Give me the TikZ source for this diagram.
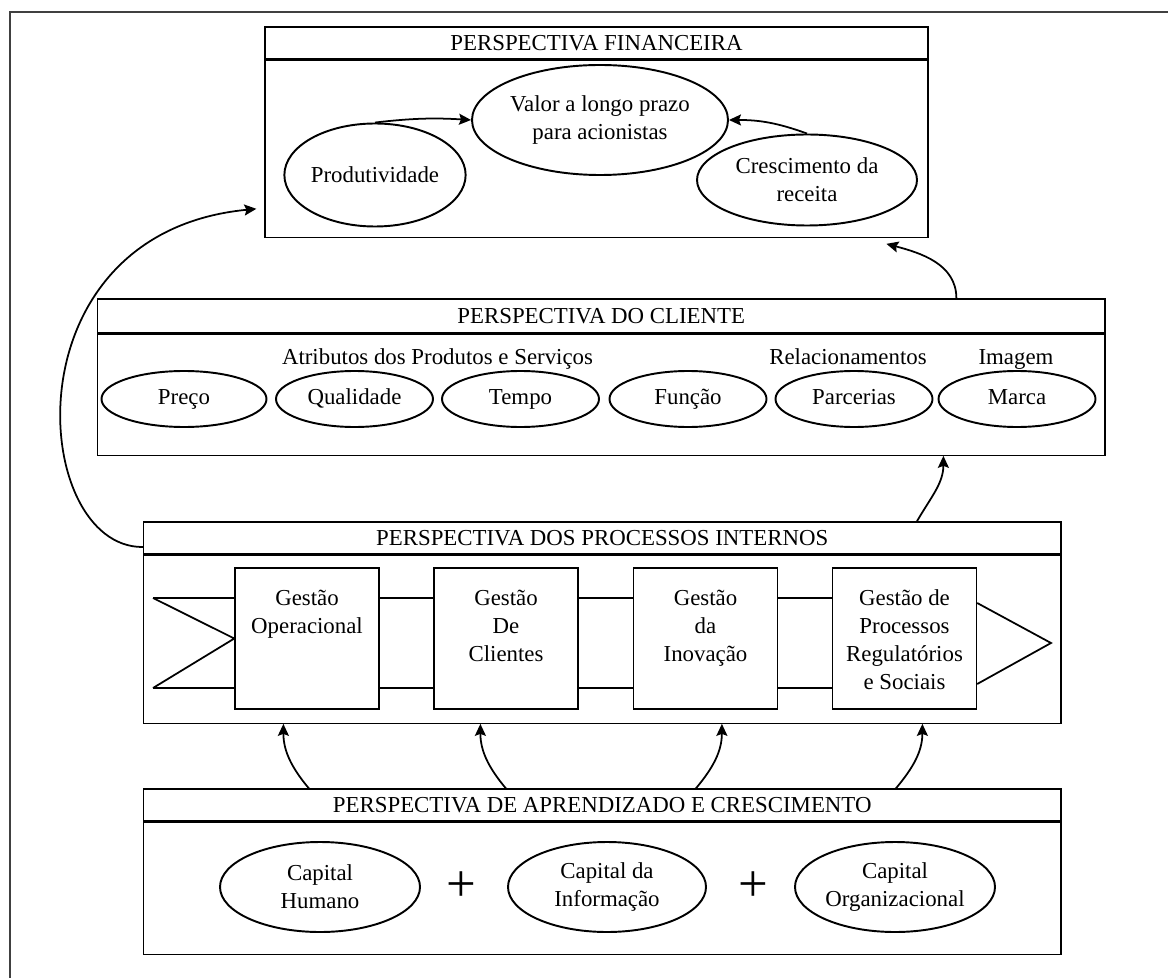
\documentclass[tikz,border=0pt]{standalone}
\usepackage{fontspec}
\setmainfont{Liberation Serif}
\usetikzlibrary{shapes,arrows,arrows.meta,positioning,backgrounds}

\newcommand{\steplabel}[1]{\parbox[c][1.95cm][t]{2.8cm}{\centering #1}}

\begin{document}
\begin{tikzpicture}[
    font=\fontsize{13}{16}\selectfont,
    head/.style={rectangle, draw, line width=0.7pt, inner sep=0pt},
    body/.style={rectangle, draw, line width=0.7pt, inner sep=0pt},
    goal/.style={ellipse, draw, line width=1.1pt, inner sep=0pt, align=center},
    attr/.style={goal, minimum width=3.14cm, minimum height=1.12cm, text height=1.9ex, text depth=0.45ex},
    capital/.style={goal, minimum width=4cm, minimum height=1.8cm},
    stepbox/.style={rectangle, draw, line width=0.8pt, fill=white, minimum width=2.88cm, minimum height=2.82cm, inner sep=0pt},
    arrow/.style={->, >={Stealth[length=2.4mm, width=2.2mm, inset=0.4mm]}, line width=1pt},
    plus/.style={font=\fontsize{30}{30}\selectfont, inner sep=0pt}
]

\useasboundingbox (0,0) rectangle (23.36,19.56);
\draw[line width=0.8pt, black!75] (23.36,19.32) -- (0.20,19.32) -- (0.20,0);

% Perspectiva financeira
\node[head, minimum width=13.26cm, minimum height=0.64cm] (fint) at (11.93,18.70) {PERSPECTIVA FINANCEIRA};
\node[body, below=0pt of fint, minimum width=13.26cm, minimum height=3.54cm] (fin) {};

\node[goal, minimum width=5.12cm, minimum height=2.2cm] (valor) at (12.00,17.16) {Valor a longo prazo\\para acionistas};
\node[goal, minimum width=3.5cm, minimum height=2.06cm] (prod) at (7.50,16.06) {Produtividade};
\node[goal, minimum width=4.4cm, minimum height=1.82cm] (cresc) at (16.14,15.96) {Crescimento da\\receita};

\draw[arrow] (prod.north) to[bend left=5] (valor.west);
\draw[arrow] (cresc.north) to[bend right=10] (valor.east);

% Perspectiva do cliente
\node[head, minimum width=20.15cm, minimum height=0.68cm] (custt) at (12.025,13.24) {PERSPECTIVA DO CLIENTE};
\node[body, below=0pt of custt, minimum width=20.15cm, minimum height=2.42cm] (cust) {};

\node[anchor=base] (atrib) at (8.75,12.27) {Atributos dos Produtos e Serviços};
\node[anchor=base] (relac) at (16.96,12.27) {Relacionamentos};
\node[anchor=base] (imag) at (20.32,12.27) {Imagem};

\node[attr, minimum width=3.3cm] (preco) at (3.68,11.58) {Preço};
\node[attr] (qual) at (7.09,11.58) {Qualidade};
\node[attr] (tempo) at (10.41,11.58) {Tempo};
\node[attr] (funcao) at (13.76,11.58) {Função};
\node[attr] (parc) at (17.08,11.58) {Parcerias};
\node[attr] (marca) at (20.34,11.58) {Marca};

% Perspectiva dos processos internos
\node[head, minimum width=18.35cm, minimum height=0.64cm] (proct) at (12.045,8.80) {PERSPECTIVA DOS PROCESSOS INTERNOS};
\node[body, below=0pt of proct, minimum width=18.35cm, minimum height=3.36cm] (proc) {};

\node[stepbox] (oper) at (6.14,6.79) {\steplabel{Gestão\\Operacional}};
\node[stepbox] (clie) at (10.12,6.79) {\steplabel{Gestão\\De\\Clientes}};
\node[stepbox] (inov) at (14.11,6.79) {\steplabel{Gestão\\da\\Inovação}};
\node[stepbox] (regu) at (18.09,6.79) {\steplabel{Gestão de\\Processos\\Regulatórios\\e Sociais}};

\coordinate (bandtop) at (3.06,7.60);
\coordinate (bandbot) at (3.06,5.80);
\coordinate (tipr) at (21.02,6.70);
\begin{scope}[on background layer]
    \draw[line width=1.3pt] (bandtop) -- (regu.west |- bandtop);
    \draw[line width=0.8pt] (bandbot) -- (regu.west |- bandbot);
    \draw[line width=1pt] (bandtop) -- (oper.west) -- (bandbot);
\end{scope}
\draw[line width=1pt] ([yshift=0.71cm]regu.east) -- (tipr) -- ([yshift=-0.91cm]regu.east);

% Perspectiva de aprendizado e crescimento
\node[head, minimum width=18.35cm, minimum height=0.64cm] (learnt) at (12.045,3.46) {PERSPECTIVA DE APRENDIZADO E CRESCIMENTO};
\node[body, below=0pt of learnt, minimum width=18.35cm, minimum height=2.64cm] (learn) {};

\node[capital] (human) at (6.40,1.82) {Capital\\Humano};
\node[plus] (plus1) at (9.22,1.82) {+};
\node[capital, minimum width=3.96cm] (info) at (12.14,1.82) {Capital da\\Informação};
\node[plus] (plus2) at (15.06,1.82) {+};
\node[capital] (org) at (17.90,1.82) {Capital\\Organizacional};

% Ligacoes entre perspectivas
\draw[arrow] ([xshift=3.32cm]learnt.north west) to[out=130, in=-90] ([xshift=2.81cm]proc.south west);
\draw[arrow] ([xshift=7.26cm]learnt.north west) to[out=130, in=-90] ([xshift=6.75cm]proc.south west);
\draw[arrow] ([xshift=11.06cm]learnt.north west) to[out=50, in=-90] ([xshift=11.58cm]proc.south west);
\draw[arrow] ([xshift=15.06cm]learnt.north west) to[out=50, in=-90] ([xshift=15.59cm]proc.south west);

\draw[arrow] ([xshift=15.48cm]proct.north west) to[out=60, in=-90] ([xshift=16.93cm]cust.south west);
\draw[arrow] ([xshift=17.19cm]custt.north west) to[out=90, in=-15] ([shift={(12.44cm,-0.12cm)}]fin.south west);
\draw[arrow] ([yshift=-0.18cm]proct.west) .. controls (0.6,8.6) and (0.1,14.9) .. ([shift={(-0.16cm,0.58cm)}]fin.south west);

\end{tikzpicture}
\end{document}
